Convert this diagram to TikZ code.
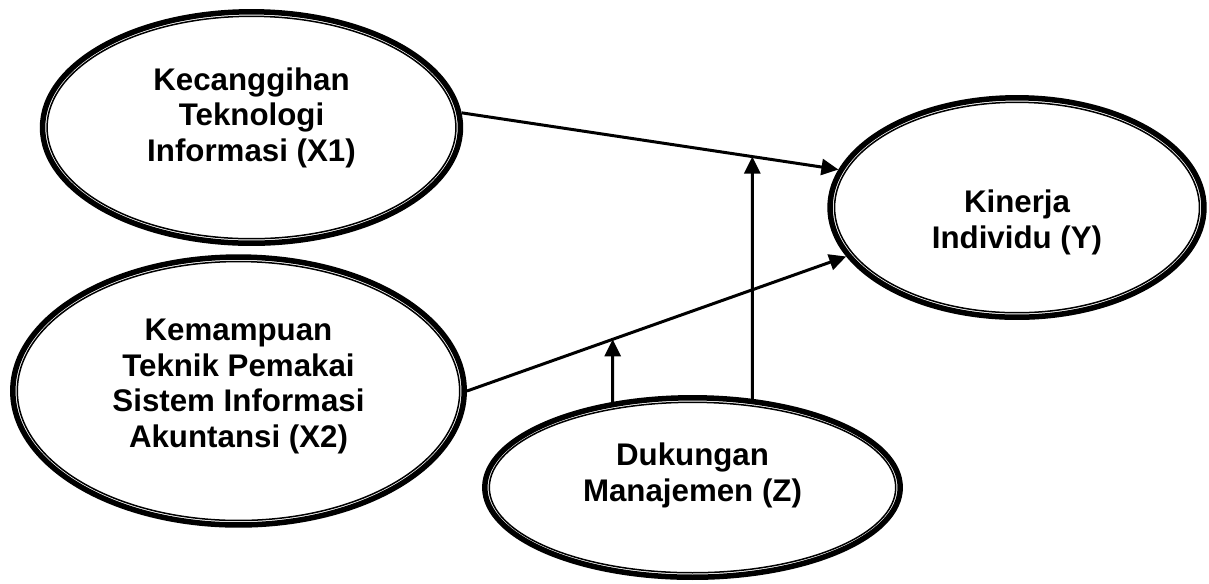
\documentclass[tikz,border=0pt]{standalone}
\usepackage{fontspec}
\setmainfont{Liberation Sans}
\usetikzlibrary{shapes.geometric,arrows.meta,calc,intersections}
\begin{document}
\begin{tikzpicture}[x=0.02cm,y=-0.02cm,
  var/.style={ellipse, draw, line width=0.11cm, inner sep=0pt,
    path picture={\draw[line width=0.03cm] let \p1=(path picture bounding box.north east),
      \p2=(path picture bounding box.center) in
      (\p2) ellipse [x radius=\x1-\x2-0.09cm, y radius=\y1-\y2-0.09cm];}},
  txt/.style={align=center, font=\bfseries\fontsize{17.8}{20.2}\selectfont},
  arr/.style={line width=0.06cm, -{Triangle[length=0.34cm,width=0.32cm]}}]
\useasboundingbox (0,0) rectangle (1209,583);
\node[var, minimum width=8.36cm, minimum height=4.63cm, label={[txt, yshift=0.2cm]center:{Kecanggihan\\Teknologi\\Informasi (X1)}}] (x1) at (251.5,127.5){};
\node[var, minimum width=9.03cm, minimum height=5.36cm, label={[txt, yshift=0.09cm]center:{Kemampuan\\Teknik Pemakai\\Sistem Informasi\\Akuntansi (X2)}}] (x2) at (238.5,391){};
\node[var, minimum width=7.48cm, minimum height=4.39cm, label={[txt, yshift=-0.3cm]center:{Kinerja\\Individu (Y)}}] (y) at (1017,207.5){};
\node[var, minimum width=8.31cm, minimum height=3.59cm, label={[txt, yshift=0.24cm]center:{Dukungan\\Manajemen (Z)}}] (z) at (692.5,487.5){};
\draw[arr, name path=l1](x1.4) -- (y.168);
\draw[arr, name path=l2](x2.east) -- (y.196);
\path[name path=v1](z.56) -- ++(0,-400);
\path[name path=v2](z.133) -- ++(0,-400);
\draw[arr, name intersections={of=l1 and v1, by=m1}](z.56) -- (m1);
\draw[arr, name intersections={of=l2 and v2, by=m2}](z.133) -- (m2);
\end{tikzpicture}
\end{document}
